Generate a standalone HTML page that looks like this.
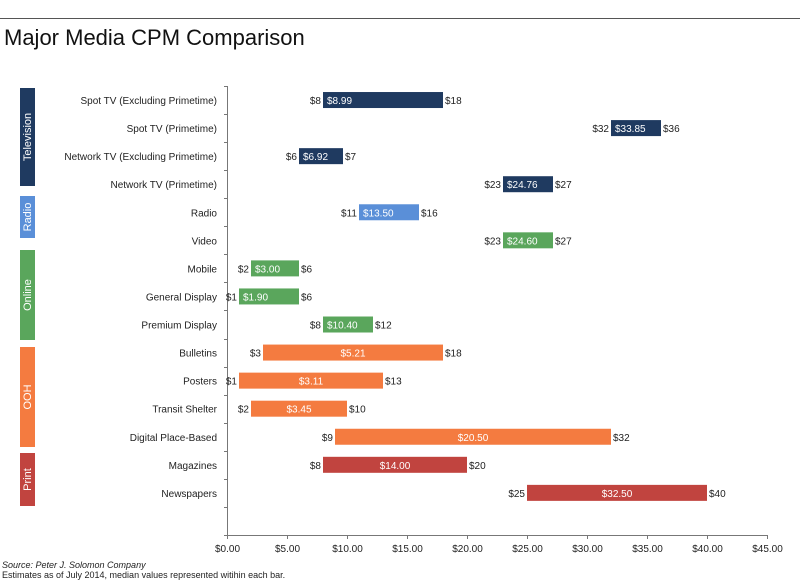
<!DOCTYPE html>
<html><head><meta charset="utf-8"><style>
body{margin:0;background:#fff;font-family:"Liberation Sans",sans-serif;}
svg text{font-family:"Liberation Sans",sans-serif;}
</style></head><body>
<svg id="c" width="800" height="582" xmlns="http://www.w3.org/2000/svg">
<line x1="0" y1="18.5" x2="800" y2="18.5" stroke="#555" stroke-width="1"/>
<text x="4" y="45" font-size="22" fill="#111">Major Media CPM Comparison</text>
<text x="2" y="568" font-size="9" font-style="italic" fill="#222">Source: Peter J. Solomon Company</text>
<text x="2" y="578" font-size="9" fill="#222">Estimates as of July 2014, median values represented witihin each bar.</text>
<g id="g"></g>
</svg>
<script>
const categories=["Spot TV (Excluding Primetime)","Spot TV (Primetime)","Network TV (Excluding Primetime)","Network TV (Primetime)","Radio","Video","Mobile","General Display","Premium Display","Bulletins","Posters","Transit Shelter","Digital Place-Based","Magazines","Newspapers"];
const lows=[8,32,6,23,11,23,2,1,8,3,1,2,9,8,25];
const highs=[18,36,7,27,16,27,6,6,12,18,13,10,32,20,40];
const medians=["$8.99","$33.85","$6.92","$24.76","$13.50","$24.60","$3.00","$1.90","$10.40","$5.21","$3.11","$3.45","$20.50","$14.00","$32.50"];
const groupOf=[0,0,0,0,1,2,2,2,2,3,3,3,3,4,4];
const groups=["Television","Radio","Online","OOH","Print"];
const groupColors=["#1f3a60","#5a8fd8","#5aa65c","#f47b40","#c1443f"];
const xTicks=[0,5,10,15,20,25,30,35,40,45];
const bandTop=[88,196,250,347,453], bandBot=[186,238,340,447,506];
const ns="http://www.w3.org/2000/svg";
const g=document.getElementById("g");
const x0=227,x1=767,yTop=86,slot=28.06,axisY=535;
const xs=v=>x0+(v-0)/(45-0)*(x1-x0);
const yc=i=>yTop+slot*(i+0.5);
function mk(t,a,txt){const e=document.createElementNS(ns,t);for(const k in a)e.setAttribute(k,a[k]);if(txt!==undefined)e.textContent=txt;g.appendChild(e);return e;}
let e;
e=mk("line",{x1:x0+0.5,y1:yTop,x2:x0+0.5,y2:axisY,stroke:"#777"});


e=mk("line",{x1:x0,y1:axisY+0.5,x2:x1,y2:axisY+0.5,stroke:"#777"});


for(let k=0;k<=16;k++){const y=Math.round(yTop+slot*k)+0.5;
e=mk("line",{x1:x0-3,y1:y,x2:x0,y2:y,stroke:"#777"});

}
xTicks.forEach(v=>{const x=Math.round(xs(v))+0.5;
e=mk("line",{x1:x,y1:axisY,x2:x,y2:axisY+4,stroke:"#777"});


e=mk("text",{x:x,y:axisY+17,"font-size":10,"text-anchor":"middle",fill:"#222"},"$"+v.toFixed(2));

});
categories.forEach((c,i)=>{const y=yc(i);const col=groupColors[groupOf[i]];
e=mk("text",{x:217,y:y+4,"font-size":10,"text-anchor":"end",fill:"#222"},c);


const bx=xs(lows[i]);let bw=xs(highs[i])-xs(lows[i]);
bw=Math.max(bw,medians[i].length*6+14);
e=mk("rect",{x:bx,y:y-8,width:bw,height:16,fill:col});


const centered=groupOf[i]>=3;
e=mk("text",{x:centered?bx+bw/2:bx+4,y:y+4,"font-size":10,"text-anchor":centered?"middle":"start",fill:"#fff"},medians[i]);


e=mk("text",{x:bx-2,y:y+4,"font-size":10,"text-anchor":"end",fill:"#222"},"$"+lows[i]);


e=mk("text",{x:bx+bw+2,y:y+4,"font-size":10,fill:"#222"},"$"+highs[i]);

});
groups.forEach((gr,k)=>{const y1=bandTop[k],y2=bandBot[k];
e=mk("rect",{x:20,y:y1,width:15,height:y2-y1,fill:groupColors[k]});


const cy=(y1+y2)/2;
e=mk("text",{x:31,y:cy,"font-size":11,"text-anchor":"middle",fill:"#fff",transform:`rotate(-90 31 ${cy})`},gr);

});
</script>
</body></html>
